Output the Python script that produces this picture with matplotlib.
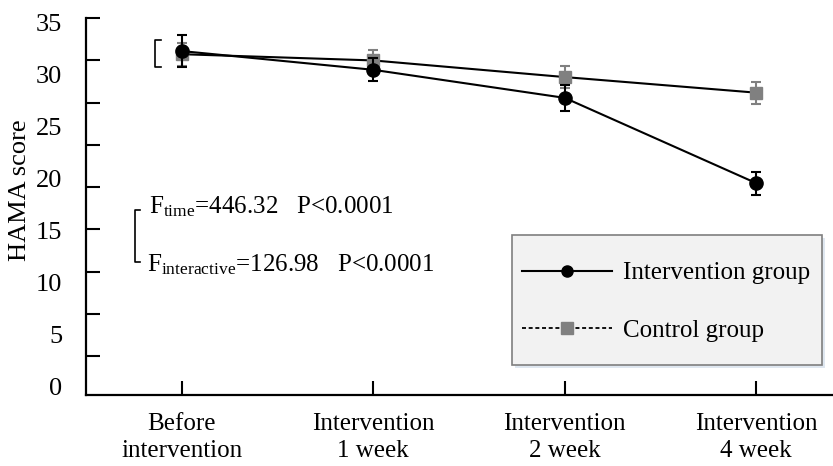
import numpy as np
import matplotlib
matplotlib.use('Agg')
import matplotlib.pyplot as plt
from matplotlib.lines import Line2D
from matplotlib.patches import Rectangle

plt.rcParams['font.family'] = 'Liberation Serif'
plt.rcParams['mathtext.fontset'] = 'custom'
plt.rcParams['mathtext.rm'] = 'Liberation Serif'
plt.rcParams['mathtext.it'] = 'Liberation Serif:italic'

# data
timepoints = ['Before\nintervention', 'Intervention\n1 week', 'Intervention\n2 week', 'Intervention\n4 week']
intervention_mean = [32.3, 30.5, 27.8, 19.6]
intervention_sd = [1.5, 1.1, 1.25, 1.1]
control_mean = [32.0, 31.4, 29.8, 28.3]
control_sd = [1.1, 1.0, 1.05, 1.05]
ytick_values = [0, 5, 10, 15, 20, 25, 30, 35]
stats_text = [r'F$_{\mathrm{time}}$=446.32   P<0.0001',
              r'F$_{\mathrm{interactive}}$=126.98   P<0.0001']
legend_labels = ['Intervention group', 'Control group']

W, H = 833, 466
fs = 18


def fx(px):
    return px / W


def fy(py):
    return 1 - py / H


fig = plt.figure(figsize=(W / 100, H / 100), dpi=100)
ax = fig.add_axes([fx(86), fy(395), fx(852) - fx(86), fy(18) - fy(395)])

x = np.arange(len(timepoints))
gray = '#808080'
ax.errorbar(x, control_mean, yerr=control_sd, color='black', lw=1.5,
            marker='s', ms=9, mfc=gray, mec=gray, ecolor=gray,
            elinewidth=1.5, capsize=3.6, capthick=1.5, zorder=2)
ax.errorbar(x, intervention_mean, yerr=intervention_sd, color='black', lw=1.5,
            marker='o', ms=9.5, mfc='black', mec='black', ecolor='black',
            elinewidth=1.5, capsize=3.6, capthick=1.5, zorder=3)

ax.set_xlim(-0.5, 3.5)
ax.set_ylim(-0.77, 35.48)
ax.set_xticks(x, timepoints)
for lab in ax.get_xticklabels():
    lab.set_linespacing(1.32)
ax.tick_params(axis='x', direction='in', length=10, width=1.5, pad=13, labelsize=fs)
ax.set_yticks(ytick_values)
ax.tick_params(axis='y', which='major', length=0, pad=17, labelsize=fs + 1)
ax.set_yticks(np.linspace(35.48, 2.98, 9), minor=True)
ax.tick_params(axis='y', which='minor', direction='in', length=10, width=1.5)
for s in ['top', 'right']:
    ax.spines[s].set_visible(False)
for s in ['left', 'bottom']:
    ax.spines[s].set_linewidth(1.6)

fig.text(fx(20), fy(190), 'HAMA score', rotation=90, ha='center', va='center', fontsize=fs + 1)

# brackets
fig.add_artist(Line2D([fx(161), fx(155), fx(155), fx(161)], [fy(40), fy(40), fy(67), fy(67)],
                      transform=fig.transFigure, color='black', lw=1.2))
fig.add_artist(Line2D([fx(140), fx(135), fx(135), fx(140)], [fy(210), fy(210), fy(262), fy(262)],
                      transform=fig.transFigure, color='black', lw=1.2))
fig.text(fx(149), fy(207), stats_text[0], va='center', fontsize=fs)
fig.text(fx(147), fy(265), stats_text[1], va='center', fontsize=fs)

# legend box
ax.add_patch(Rectangle((fx(515), fy(368)), fx(822) - fx(512), fy(235) - fy(365),
                       transform=fig.transFigure, fc='#dfe7f0', ec='none', zorder=4, clip_on=False))
ax.add_patch(Rectangle((fx(512), fy(365)), fx(822) - fx(512), fy(235) - fy(365),
                       transform=fig.transFigure, fc='#f2f2f2', ec='#7f7f7f', lw=1.2, zorder=5,
                       clip_on=False))
handles = [Line2D([], [], color='black', lw=1.5, marker='o', ms=8, mfc='black', mec='black'),
           Line2D([], [], color='black', lw=1.3, ls=(0, (2.2, 1.5)), marker='s', ms=8,
                  mfc=gray, mec=gray)]
leg = ax.legend(handles, legend_labels, loc='center left', bbox_to_anchor=(fx(522), fy(302)),
                bbox_transform=fig.transFigure, frameon=False, borderpad=0, borderaxespad=0,
                handlelength=3.6, handletextpad=0.45, labelspacing=1.4, fontsize=fs, numpoints=1)
leg.set_zorder(6)

fig.savefig('out.png', dpi=100)
